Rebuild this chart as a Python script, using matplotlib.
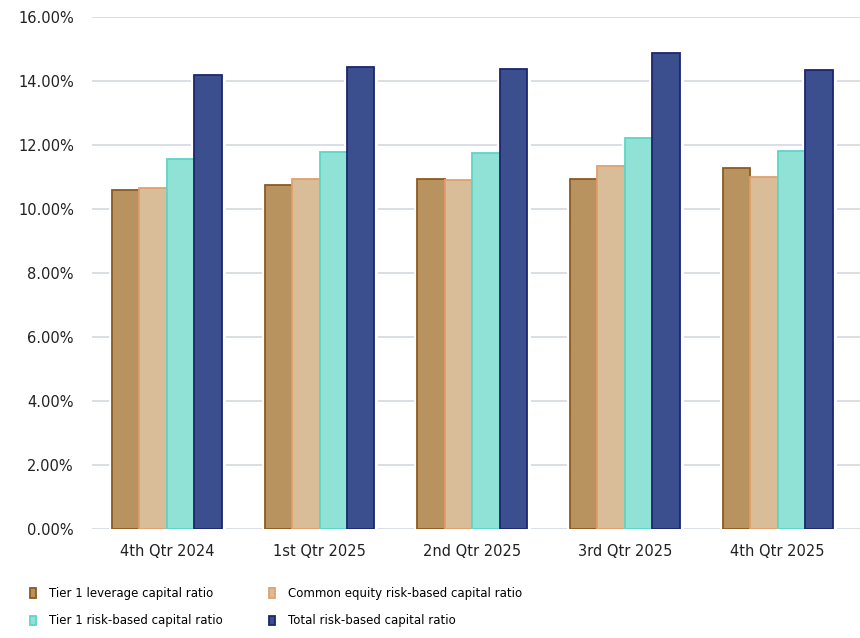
import matplotlib.pyplot as plt
import numpy as np
from matplotlib.ticker import FuncFormatter

plt.rcParams['font.family'] = ['DejaVu Sans']

quarters = ["4th Qtr 2024", "1st Qtr 2025", "2nd Qtr 2025", "3rd Qtr 2025", "4th Qtr 2025"]
series_names = ["Tier 1 leverage capital ratio", "Common equity risk-based capital ratio",
                "Tier 1 risk-based capital ratio", "Total risk-based capital ratio"]
tier1_leverage = [10.59, 10.75, 10.92, 10.92, 11.28]
common_equity = [10.64, 10.92, 10.90, 11.32, 10.98]
tier1_risk = [11.55, 11.78, 11.75, 12.20, 11.81]
total_risk = [14.19, 14.42, 14.35, 14.86, 14.34]

faces = ["#b8925f", "#d8bd98", "#90e1d6", "#3b4f8e"]
edges = ["#8c5a1e", "#e3a06e", "#5cd6c8", "#1b2670"]

fig = plt.figure(figsize=(8.6, 6.38), dpi=100)
ax = fig.add_axes([0.107, 0.171, 0.893, 0.803])

x = np.arange(len(quarters))
w = 0.18
allvals = [tier1_leverage, common_equity, tier1_risk, total_risk]
handles = []
for i, vals in enumerate(allvals):
    pos = x + (i - 1.5) * w
    # white halo round the bars so the grid breaks near them
    ax.bar(pos, vals, w, color=faces[i], edgecolor="white", linewidth=5, zorder=2)
    b = ax.bar(pos, vals, w, color=faces[i], edgecolor=edges[i], linewidth=1.3, zorder=3,
               label=series_names[i])
    handles.append(b)

ax.set_ylim(0, 16)
ax.set_yticks(np.arange(0, 16.1, 2))
ax.yaxis.set_major_formatter(FuncFormatter(lambda v, p: "%.2f%%" % v))
ax.set_xlim(-0.49, 4.54)
ax.set_xticks(x)
ax.set_xticklabels(quarters)
ax.grid(axis="y", color="#d3d9e3", linewidth=1.2, zorder=0)
ax.set_axisbelow(True)
for s in ax.spines.values():
    s.set_visible(False)
ax.tick_params(length=0, labelsize=10.5, colors="#222222")
ax.tick_params(axis="y", pad=13)
ax.tick_params(axis="x", pad=11)

# row-wise order in the two-column legend
order = [0, 2, 1, 3]
fig.legend(handles=[handles[k] for k in order], labels=[series_names[k] for k in order],
           ncol=2, loc="lower left",
           bbox_to_anchor=(0.022, 0.0), frameon=False, fontsize=8.5,
           handlelength=0.55, handleheight=0.85, handletextpad=1.1,
           columnspacing=3.9, labelspacing=1.2)

plt.savefig("out.png", dpi=100)
